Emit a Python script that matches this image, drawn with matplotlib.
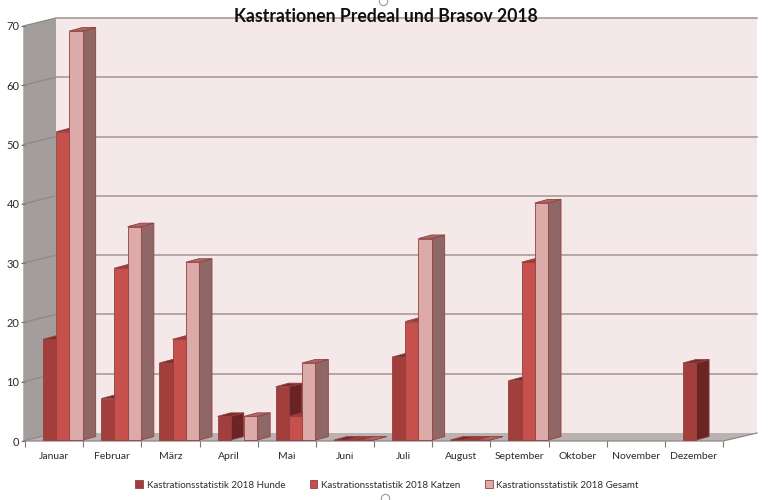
import numpy as np
import matplotlib
matplotlib.use('Agg')
import matplotlib.pyplot as plt
from matplotlib.patches import Polygon, Patch

plt.rcParams['font.family'] = ['Lato', 'DejaVu Sans']

months = ['Januar', 'Februar', 'März', 'April', 'Mai', 'Juni', 'Juli', 'August',
          'September', 'Oktober', 'November', 'Dezember']
# None = no bar at all, 0 = flat bar
hunde = [17, 7, 13, 4, 9, 0, 14, 0, 10, None, None, 13]
katzen = [52, 29, 17, None, 4, 0, 20, 0, 30, None, None, None]
gesamt = [69, 36, 30, 4, 13, 0, 34, 0, 40, None, None, None]
series_names = ['Kastrationsstatistik 2018 Hunde', 'Kastrationsstatistik 2018 Katzen',
                'Kastrationsstatistik 2018 Gesamt']
y_ticks = [0, 10, 20, 30, 40, 50, 60, 70]

# front, side, top
bar_colors = [('#A23F3D', '#6B2424', '#7E2C2B'),
              ('#C6504C', '#8E3432', '#A03A38'),
              ('#DCABA9', '#8F6766', '#A86A68')]
edge = '#93403E'

# pseudo 3d depth, in data units
wall_dx_l, wall_dx_r, wall_dy = 0.533, 0.585, 1.35
bar_off, bar_w, bar_dx, bar_dy, bar_base = 0.31, 0.227, 0.224, 0.6, 0.15


def poly(ax, pts, color, ec='none', lw=0.8, z=2):
    ax.add_patch(Polygon(pts, closed=True, fc=color, ec=ec, lw=lw, zorder=z, clip_on=False))


def draw_bar(ax, x, val, colors, z):
    front, side, top = colors
    y0, y1 = bar_base, bar_base + val
    x1 = x + bar_w
    poly(ax, [(x1, y0), (x1 + bar_dx, y0 + bar_dy), (x1 + bar_dx, y1 + bar_dy), (x1, y1)], side, edge, 0.6, z)
    poly(ax, [(x, y1), (x1, y1), (x1 + bar_dx, y1 + bar_dy), (x + bar_dx, y1 + bar_dy)], top, edge, 0.6, z)
    poly(ax, [(x, y0), (x1, y0), (x1, y1), (x, y1)], front, edge, 0.6, z)


fig = plt.figure(figsize=(7.68, 5.0), dpi=100)
ax = fig.add_axes([25 / 768, 1 - 441 / 500, 698 / 768, 415 / 500])
ax.set_xlim(0, 12)
ax.set_ylim(0, 70)
for s in ax.spines.values():
    s.set_visible(False)
ax.patch.set_visible(False)

# walls and floor
poly(ax, [(wall_dx_l, wall_dy), (12 + wall_dx_r, wall_dy), (12 + wall_dx_r, 70 + wall_dy), (wall_dx_l, 70 + wall_dy)], '#F4E8E8', z=1)
poly(ax, [(-0.03, 0), (wall_dx_l, wall_dy), (wall_dx_l, 70 + wall_dy), (-0.03, 70)], '#A39D9B', z=1)
poly(ax, [(0, 0), (12, 0), (12 + wall_dx_r, wall_dy), (wall_dx_l, wall_dy)], '#B9B2B0', z=1)

for v in y_ticks:
    ax.plot([-0.03, wall_dx_l], [v, v + wall_dy], color='#8F8786', lw=0.9, zorder=1.2, clip_on=False)
    if v > 0:
        ax.plot([wall_dx_l, 12 + wall_dx_r], [v + wall_dy, v + wall_dy], color='#A99C9B', lw=1.2, zorder=1.2, clip_on=False)
ax.plot([0, 12, 12 + wall_dx_r], [0, 0, wall_dy], color='#8F8786', lw=0.9, zorder=1.5, clip_on=False)

# bars, painter's order left to right
for i in range(len(months)):
    for j, values in enumerate([hunde, katzen, gesamt]):
        if values[i] is None:
            continue
        draw_bar(ax, i + bar_off + j * bar_w, values[i], bar_colors[j], 3 + i + j * 0.1)

ax.set_yticks(y_ticks)
ax.set_xticks(np.arange(13))
ax.set_xticklabels([])
ax.set_xticks(np.arange(12) + 0.5, months, minor=True)
ax.tick_params(axis='x', which='major', length=4, width=0.8, color='#777777')
ax.tick_params(axis='x', which='minor', length=0, pad=8, labelsize=7.5, labelcolor='#2b2b2b')
ax.tick_params(axis='y', length=3, width=0.8, color='#777777', labelsize=8, labelcolor='#2b2b2b', pad=1)

fig.text(385.5 / 768, 1 - 17 / 500, 'Kastrationen Predeal und Brasov 2018', ha='center', va='center',
         fontsize=12.7, fontweight='bold', color='#111111', zorder=20)

handles = [Patch(fc=c[0], ec=edge, lw=0.6) for c in bar_colors]
fig.legend(handles, series_names, ncol=3, loc='center', bbox_to_anchor=(387 / 768, 1 - 485 / 500),
           frameon=False, fontsize=7, handlelength=0.8, handleheight=0.8, handletextpad=0.4,
           columnspacing=2.5, labelcolor='#2b2b2b')

# selection handles of the screenshot
fig.add_artist(plt.Line2D([383 / 768, 385 / 768], [1 - 1 / 500, 1 - 498 / 500], ls='none', marker='o', ms=6,
                          mfc='white', mec='#999999', mew=0.8))

fig.savefig('out.png', dpi=100)
